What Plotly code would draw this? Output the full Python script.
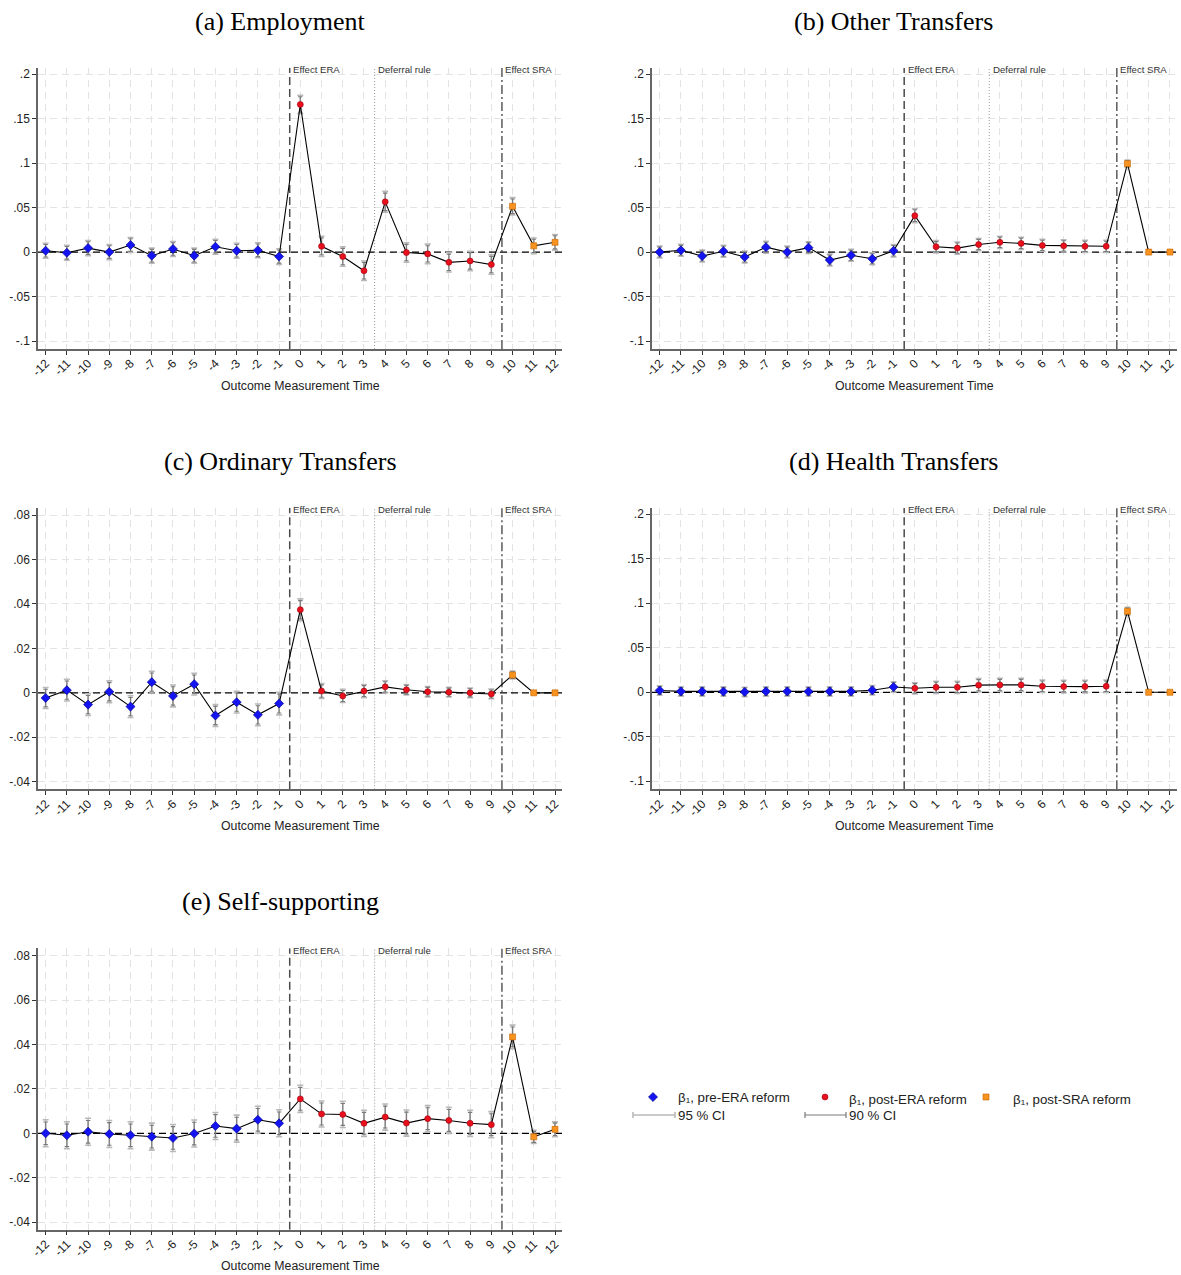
import numpy as np
import plotly.graph_objects as go

W, H = 1181, 1275

# Event time relative to the early-retirement-age (ERA) reform
periods = list(range(-12, 13))
period_labels = [str(p) for p in periods]

# Estimated coefficients (beta_1) and standard errors by outcome
employment_coef = [0.0015, -0.0008, 0.0045, 0.0, 0.008, -0.004, 0.0035, -0.004, 0.006, 0.0015, 0.002, -0.005,
                   0.166, 0.0065, -0.005, -0.021, 0.0565, -0.0005, -0.002, -0.0115, -0.010, -0.014,
                   0.0515, 0.007, 0.011]
employment_se = [0.0043, 0.0043, 0.0043, 0.0043, 0.0043, 0.0043, 0.0043, 0.0043, 0.0043, 0.0043, 0.0043, 0.0045,
                 0.0053, 0.0058, 0.0056, 0.0056, 0.0060, 0.0056, 0.0056, 0.0056, 0.0056, 0.0056,
                 0.0050, 0.0045, 0.0045]

other_coef = [0.0, 0.002, -0.0045, 0.001, -0.0055, 0.0055, 0.0, 0.005, -0.009, -0.0035, -0.0075, 0.0015,
              0.041, 0.006, 0.0045, 0.0085, 0.011, 0.0098, 0.0075, 0.007, 0.0065, 0.0065,
              0.0995, 0.0, 0.0]
other_se = [0.0034, 0.0034, 0.0034, 0.0034, 0.0034, 0.0034, 0.0034, 0.0034, 0.0034, 0.0034, 0.0034, 0.0036,
            0.0040, 0.0035, 0.0035, 0.0035, 0.0035, 0.0035, 0.0035, 0.0035, 0.0035, 0.0035,
            0.0020, 0.0, 0.0]

ordinary_coef = [-0.0023, 0.0012, -0.0053, 0.0005, -0.0062, 0.0048, -0.0014, 0.0039, -0.0102, -0.0042, -0.0099, -0.0048,
                 0.0374, 0.0008, -0.0014, 0.0008, 0.0027, 0.0014, 0.0005, 0.0003, 0.0, -0.0005,
                 0.008, 0.0, 0.0]
ordinary_se = [0.0024, 0.0025, 0.0025, 0.0025, 0.0025, 0.0025, 0.0025, 0.0025, 0.0025, 0.0025, 0.0025, 0.0026,
               0.0025, 0.0017, 0.0015, 0.0015, 0.0014, 0.0012, 0.0012, 0.0011, 0.0011, 0.0011,
               0.0009, 0.0, 0.0]

health_coef = [0.002, 0.001, 0.001, 0.0008, 0.0004, 0.001, 0.001, 0.0008, 0.001, 0.001, 0.0023, 0.006,
               0.0045, 0.0056, 0.0056, 0.008, 0.0083, 0.0083, 0.0068, 0.0064, 0.0064, 0.0068,
               0.091, 0.0, 0.0]
health_se = [0.0027, 0.0027, 0.0027, 0.0027, 0.0027, 0.0027, 0.0027, 0.0027, 0.0027, 0.0027, 0.0027, 0.0030,
             0.0032, 0.0035, 0.0035, 0.0038, 0.0038, 0.0038, 0.0036, 0.0036, 0.0036, 0.0036,
             0.0023, 0.0, 0.0]

selfsup_coef = [0.0, -0.0009, 0.0007, -0.0003, -0.0009, -0.0015, -0.0021, -0.0001, 0.0033, 0.0021, 0.0061, 0.0045,
                0.0155, 0.0087, 0.0085, 0.0045, 0.0073, 0.0046, 0.0066, 0.0058, 0.0045, 0.0039,
                0.0434, -0.0016, 0.0018]
selfsup_se = [0.0031, 0.0031, 0.0031, 0.0031, 0.0031, 0.0031, 0.0031, 0.0031, 0.0031, 0.0031, 0.0031, 0.0031,
              0.0031, 0.0030, 0.0030, 0.0030, 0.0030, 0.0030, 0.0030, 0.0030, 0.0030, 0.0030,
              0.0027, 0.0015, 0.0017]

panel_titles = ["(a) Employment", "(b) Other Transfers", "(c) Ordinary Transfers",
                "(d) Health Transfers", "(e) Self-supporting"]

wide_ticks = [-0.1, -0.05, 0, 0.05, 0.1, 0.15, 0.2]
wide_tick_text = ["-.1", "-.05", "0", ".05", ".1", ".15", ".2"]
narrow_ticks = [-0.04, -0.02, 0, 0.02, 0.04, 0.06, 0.08]
narrow_tick_text = ["-.04", "-.02", "0", ".02", ".04", ".06", ".08"]

vline_labels = ["Effect ERA", "Deferral rule", "Effect SRA"]
vline_positions = [-0.5, 3.5, 9.5]

Z95, Z90 = 1.96, 1.645

SANS = "Arial, Liberation Sans, sans-serif"
SERIF = "Times New Roman, Liberation Serif, serif"

# panel geometry in pixels: (left, right, top, bottom)
boxes = [(38, 562, 67.7, 349), (652, 1177, 67.7, 349),
         (38, 562, 507.7, 789.3), (652, 1177, 507.7, 789.3),
         (38, 562, 948.3, 1229.7)]
title_pos = [(280, 21), (893, 21), (280, 461), (893, 461), (280, 902)]
XR = [-12.36, 12.33]

panels = [
    dict(coef=employment_coef, se=employment_se, yr=[-0.109, 0.2074], tv=wide_ticks, tt=wide_tick_text),
    dict(coef=other_coef, se=other_se, yr=[-0.109, 0.2074], tv=wide_ticks, tt=wide_tick_text),
    dict(coef=ordinary_coef, se=ordinary_se, yr=[-0.0434, 0.0833], tv=narrow_ticks, tt=narrow_tick_text),
    dict(coef=health_coef, se=health_se, yr=[-0.109, 0.2074], tv=wide_ticks, tt=wide_tick_text),
    dict(coef=selfsup_coef, se=selfsup_se, yr=[-0.0434, 0.0833], tv=narrow_ticks, tt=narrow_tick_text),
]

groups = [
    (lambda p: p < 0, "diamond", "#1414f0", "#00008b", 7),
    (lambda p: 0 <= p <= 9, "circle", "#e8101c", "#a0000f", 6),
    (lambda p: p >= 10, "square", "#f7931e", "#c86400", 6),
]

# styles of the reform timing lines
vline_styles = [dict(color="#4a4a4a", width=1.5, dash="8px,4px"),
                dict(color="#9a9a9a", width=1, dash="1px,2px"),
                dict(color="#5a5a5a", width=1.5, dash="9px,3px,2px,3px")]

fig = go.Figure()
layout = dict(width=W, height=H, margin=dict(l=0, r=0, t=0, b=0, pad=0), autosize=False,
              paper_bgcolor="white", plot_bgcolor="rgba(0,0,0,0)", showlegend=False)
annotations = []
shapes = []

x = np.array(periods)
for i, (panel, box, tpos, title) in enumerate(zip(panels, boxes, title_pos, panel_titles), start=1):
    xa, ya = ("x", "y") if i == 1 else (f"x{i}", f"y{i}")
    xkey, ykey = ("xaxis", "yaxis") if i == 1 else (f"xaxis{i}", f"yaxis{i}")
    coef = np.array(panel["coef"])
    se = np.array(panel["se"])
    y0, y1 = panel["yr"]

    # reference lines (drawn as traces so they sit above the grid)
    fig.add_trace(go.Scatter(x=XR, y=[0, 0], mode="lines",
                             line=dict(color="black", width=1.3, dash="7px,4px"),
                             xaxis=xa, yaxis=ya, hoverinfo="skip"))
    for pos, lab, st in zip(vline_positions, vline_labels, vline_styles):
        fig.add_trace(go.Scatter(x=[pos, pos], y=[y0, y1], mode="lines", line=st,
                                 xaxis=xa, yaxis=ya, hoverinfo="skip", cliponaxis=False))
        annotations.append(dict(text=lab, x=pos, xref=xa, y=y1, yref=ya,
                                xanchor="left", yanchor="middle", xshift=1.5, yshift=-2,
                                showarrow=False, font=dict(family=SANS, size=9.6, color="#333333")))

    # confidence intervals: 95 % (light) under 90 % (dark)
    fig.add_trace(go.Scatter(x=x, y=coef, mode="markers", marker=dict(size=1, opacity=0),
                             error_y=dict(type="data", array=Z95 * se, color="#b9b9b9",
                                          thickness=1.6, width=3),
                             xaxis=xa, yaxis=ya, hoverinfo="skip"))
    fig.add_trace(go.Scatter(x=x, y=coef, mode="markers", marker=dict(size=1, opacity=0),
                             error_y=dict(type="data", array=Z90 * se, color="#7a7a7a",
                                          thickness=1.1, width=2.2),
                             xaxis=xa, yaxis=ya, hoverinfo="skip"))
    fig.add_trace(go.Scatter(x=x, y=coef, mode="lines", line=dict(color="black", width=1.1),
                             xaxis=xa, yaxis=ya, hoverinfo="skip"))
    for sel, sym, col, edge, size in groups:
        m = np.array([sel(p) for p in periods])
        fig.add_trace(go.Scatter(x=x[m], y=coef[m], mode="markers",
                                 marker=dict(symbol=sym, color=col, size=size,
                                             line=dict(color=edge, width=0.6)),
                                 xaxis=xa, yaxis=ya, hoverinfo="skip"))

    left, right, top, bottom = box
    common = dict(showgrid=True, gridcolor="#e3e3e3", griddash="7px,5px", gridwidth=1,
                  showline=True, linecolor="#666666", linewidth=1.5, zeroline=False,
                  ticks="outside", ticklen=4, tickwidth=1.2, tickcolor="#333333",
                  tickfont=dict(family=SANS, size=12, color="#222222"),
                  fixedrange=True, automargin=False)
    layout[xkey] = dict(domain=[left / W, right / W], anchor=ya, range=XR,
                        tickmode="array", tickvals=periods, ticktext=period_labels, tickangle=-45,
                        ticklabelstandoff=-3, **common)
    layout[ykey] = dict(domain=[1 - bottom / H, 1 - top / H], anchor=xa, range=[y0, y1],
                        tickmode="array", tickvals=panel["tv"], ticktext=panel["tt"], **common)

    # panel title and axis title
    annotations.append(dict(text=title, x=tpos[0] / W, y=1 - tpos[1] / H, xref="paper", yref="paper",
                            xanchor="center", yanchor="middle", showarrow=False,
                            font=dict(family=SERIF, size=26, color="black")))
    annotations.append(dict(text="Outcome Measurement Time", x=(left + right) / 2 / W,
                            y=1 - (bottom + 36.5) / H, xref="paper", yref="paper",
                            xanchor="center", yanchor="middle", showarrow=False,
                            font=dict(family=SANS, size=12.3, color="#222222")))

# legend drawn on a hidden pixel-space overlay axis
layout["xaxis6"] = dict(domain=[0, 1], range=[0, W], visible=False, anchor="y6",
                        fixedrange=True, automargin=False)
layout["yaxis6"] = dict(domain=[0, 1], range=[H, 0], visible=False, anchor="x6",
                        fixedrange=True, automargin=False)

legend_keys = [("diamond", "#1414f0", "#00008b", 7, 653, 1097),
               ("circle", "#e8101c", "#a0000f", 6, 825, 1097),
               ("square", "#f7931e", "#c86400", 6, 986, 1097)]
for sym, col, edge, size, lx, ly in legend_keys:
    fig.add_trace(go.Scatter(x=[lx], y=[ly], mode="markers", xaxis="x6", yaxis="y6",
                             marker=dict(symbol=sym, color=col, size=size, line=dict(color=edge, width=0.6)),
                             hoverinfo="skip"))

legend_texts = [("β₁, pre-ERA reform", 676, 1097), ("β₁, post-ERA reform", 847, 1099.5),
                ("β₁, post-SRA reform", 1011, 1099.5), ("95 % CI", 676, 1115), ("90 % CI", 847, 1115)]
for txt, lx, ly in legend_texts:
    annotations.append(dict(text=txt, x=lx, y=ly, xref="x6", yref="y6", xanchor="left", yanchor="middle",
                            showarrow=False, font=dict(family=SANS, size=13.3, color="#222222")))

for (x0, x1, col, wd) in [(633, 675, "#b9b9b9", 1.6), (805, 846, "#7a7a7a", 1.2)]:
    shapes.append(dict(type="line", xref="x6", yref="y6", x0=x0, x1=x1, y0=1115, y1=1115,
                       line=dict(color=col, width=wd)))
    for xe in (x0, x1):
        shapes.append(dict(type="line", xref="x6", yref="y6", x0=xe, x1=xe, y0=1112, y1=1118,
                           line=dict(color=col, width=wd)))

layout["shapes"] = shapes
layout["annotations"] = annotations
fig.update_layout(**layout)
fig.for_each_trace(lambda t: t.update(showlegend=False))

fig.write_html("out.html", config={"responsive": False})
